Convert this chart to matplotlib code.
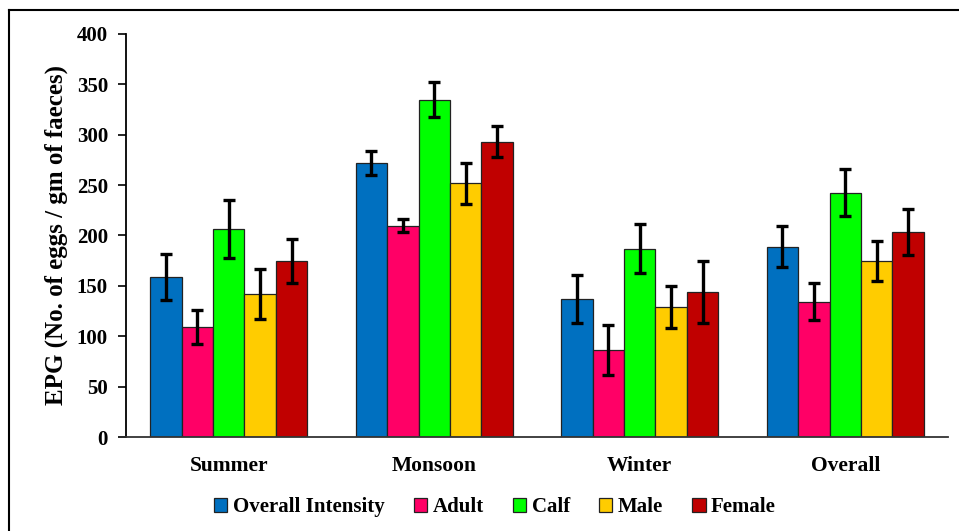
import numpy as np
from matplotlib import pyplot as plt
from matplotlib.lines import Line2D

seasons = ["Summer", "Monsoon", "Winter", "Overall"]
groups = ["Overall Intensity", "Adult", "Calf", "Male", "Female"]

overall_intensity = [158.5, 272.3, 137.0, 188.9]
adult             = [109.2, 209.8, 86.4, 134.3]
calf              = [206.5, 334.8, 186.9, 242.5]
male              = [142.0, 251.8, 129.3, 174.7]
female            = [175.0, 293.1, 143.6, 203.2]

overall_intensity_err = [23.0, 12.0, 23.8, 20.5]
adult_err             = [17.0, 6.6, 24.4, 18.5]
calf_err              = [29.0, 17.5, 24.3, 23.4]
male_err              = [24.7, 20.5, 21.0, 20.0]
female_err            = [22.0, 15.3, 30.6, 22.7]

values = [overall_intensity, adult, calf, male, female]
errors = [overall_intensity_err, adult_err, calf_err, male_err, female_err]
colors = ["#0070C0", "#FF0066", "#00FF00", "#FFCC00", "#C00000"]

plt.rcParams['font.family'] = ['Liberation Serif', 'DejaVu Serif']
plt.rcParams['font.weight'] = 'bold'

fig = plt.figure(figsize=(9.59, 5.31), dpi=100)
ax = fig.add_axes([0.1314, 0.177, 0.8571, 0.759])

# outer frame: only the top and left edges fall inside the canvas
fig.add_artist(Line2D([9 / 959, 9 / 959], [0, 1 - 10 / 531], color="black", lw=1.5,
                      transform=fig.transFigure))
fig.add_artist(Line2D([9 / 959, 1], [1 - 10 / 531, 1 - 10 / 531], color="black", lw=1.5,
                      transform=fig.transFigure))

x = np.arange(len(seasons))
n = len(groups)
group_w = 0.764
width = group_w / n
for i, (vals, errs, clr, lbl) in enumerate(zip(values, errors, colors, groups)):
    pos = x - group_w / 2 + width * (i + 0.5)
    ax.bar(pos, vals, width=width, color=clr, edgecolor="#222222", linewidth=0.9, label=lbl,
           zorder=2)
    ax.errorbar(pos, vals, yerr=errs, fmt="none", ecolor="black", elinewidth=2.4,
                capsize=4, capthick=2.4, zorder=3)

ax.set_xlim(-0.5, 3.5)
ax.set_ylim(0, 400)
ax.set_yticks(np.arange(0, 401, 50))
ax.set_xticks(x)
ax.set_xticklabels(seasons, fontsize=15.5, fontweight="bold")
ax.tick_params(axis="x", length=0, pad=14)
ax.tick_params(axis="y", direction="out", length=6, width=1.2, labelsize=15, pad=7)
for lab in ax.get_yticklabels():
    lab.set_fontweight("bold")

for side in ["top", "right"]:
    ax.spines[side].set_visible(False)
ax.spines["left"].set_linewidth(1.3)
ax.spines["bottom"].set_linewidth(1.3)
ax.spines["bottom"].set_color("#333333")

ax.set_ylabel("EPG (No. of eggs / gm of faeces)", fontsize=18, fontweight="bold",
              labelpad=6)

fig.legend(loc="center", bbox_to_anchor=(0.516, 1 - 507 / 531), ncol=5, frameon=False,
           prop={"size": 15, "weight": "bold"}, handlelength=0.65, handleheight=0.65,
           handletextpad=0.25, columnspacing=1.4)

fig.savefig("out.png", dpi=100)
